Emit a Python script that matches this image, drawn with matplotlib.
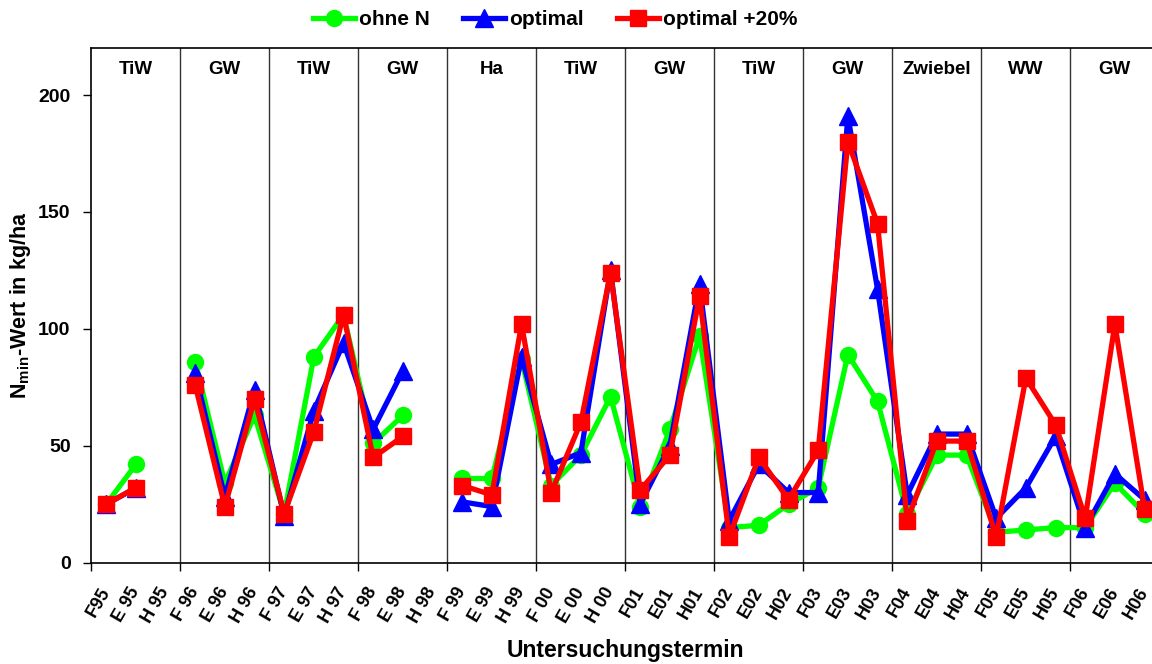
import matplotlib
matplotlib.use("Agg")
import matplotlib.pyplot as plt
import numpy as np

nan = np.nan

termine = ['F95', 'E 95', 'H 95', 'F 96', 'E 96', 'H 96', 'F 97', 'E 97', 'H 97',
           'F 98', 'E 98', 'H 98', 'F 99', 'E 99', 'H 99', 'F 00', 'E 00', 'H 00',
           'F01', 'E01', 'H01', 'F02', 'E02', 'H02', 'F03', 'E03', 'H03',
           'F04', 'E04', 'H04', 'F05', 'E05', 'H05', 'F06', 'E06', 'H06']

kulturen = ['TiW', 'GW', 'TiW', 'GW', 'Ha', 'TiW', 'GW', 'TiW', 'GW',
            'Zwiebel', 'WW', 'GW']

ohne_n = [25, 42, nan, 86, 34, 63, 21, 88, 106, 51, 63, nan,
          36, 36, 87, 33, 46, 71, 24, 57, 97, 15, 16, 25,
          32, 89, 69, 21, 46, 46, 13, 14, 15, 15, 34, 21]

optimal = [25, 32, nan, 81, 28, 74, 20, 65, 94, 57, 82, nan,
           26, 24, 88, 42, 47, 125, 25, 50, 119, 18, 42, 30,
           30, 191, 117, 29, 55, 55, 19, 32, 54, 15, 38, 27]

optimal_20 = [25, 32, nan, 76, 24, 70, 21, 56, 106, 45, 54, nan,
              33, 29, 102, 30, 60, 124, 31, 46, 114, 11, 45, 27,
              48, 180, 145, 18, 52, 52, 11, 79, 59, 19, 102, 23]

plt.rcParams['font.family'] = ['Liberation Sans', 'DejaVu Sans']
plt.rcParams['font.weight'] = 'bold'
plt.rcParams['mathtext.fontset'] = 'custom'
plt.rcParams['mathtext.bf'] = 'Liberation Sans:bold'
plt.rcParams['mathtext.rm'] = 'Liberation Sans:bold'

fig = plt.figure(figsize=(11.52, 6.64), dpi=100)
ax = fig.add_axes([0.0793, 0.1526, 0.9271, 0.7747])

x = np.arange(len(termine))
ax.plot(x, ohne_n, color='#00ff00', lw=3.8, marker='o', ms=11.5, label='ohne N', zorder=3)
ax.plot(x, optimal, color='#0000ff', lw=3.8, marker='^', ms=12.5, label='optimal', zorder=4)
ax.plot(x, optimal_20, color='#ff0000', lw=3.8, marker='s', ms=11.5, label='optimal +20%', zorder=5)

ax.set_xlim(-0.5, len(termine) - 0.5)
ax.set_ylim(0, 220)
ax.set_yticks([0, 50, 100, 150, 200])

# Gruppengrenzen
grenzen = np.arange(-0.5, len(termine), 3)
for g in grenzen[1:]:
    ax.axvline(g, color='#333333', lw=1, zorder=1)
ax.set_xticks(grenzen)
ax.set_xticklabels([])
ax.set_xticks(x, minor=True)
ax.set_xticklabels(termine, minor=True, rotation=60, ha='right', va='center',
                   rotation_mode='anchor', fontsize=13, fontweight='bold')
ax.tick_params(axis='x', which='major', length=6, width=1)
ax.tick_params(axis='x', which='minor', length=0, pad=19)
ax.tick_params(axis='y', length=6, width=1, labelsize=14, pad=9)
for lab in ax.get_yticklabels():
    lab.set_fontweight('bold')

for i, k in enumerate(kulturen):
    ax.text(3 * i + 1, 0.958, k, transform=ax.get_xaxis_transform(),
            ha='center', va='center', fontsize=13.5, fontweight='bold')

ax.spines['right'].set_visible(False)
for s in ['left', 'bottom', 'top']:
    ax.spines[s].set_linewidth(1.2)

ax.set_xlabel('Untersuchungstermin', fontsize=16.5, fontweight='bold')
ax.xaxis.label.set_va('center')
ax.xaxis.set_label_coords(0.5, -0.17)
ax.set_ylabel(r'$\mathbf{N_{min}}$-Wert in kg/ha', fontsize=15.5, fontweight='bold')
ax.yaxis.label.set_va('center')
ax.yaxis.set_label_coords(-0.0665, 0.5)

fig.legend(loc='center', bbox_to_anchor=(0.482, 0.97), ncol=3, frameon=False,
           prop={'size': 15, 'weight': 'bold'}, handlelength=2.0,
           handletextpad=0.2, columnspacing=1.6, borderaxespad=0)

fig.savefig('out.png', dpi=100)
